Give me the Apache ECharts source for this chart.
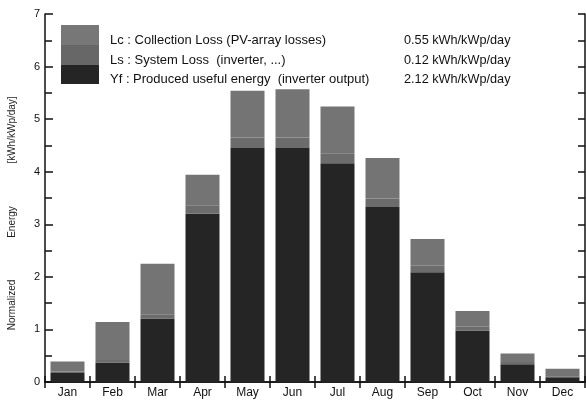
<!DOCTYPE html>
<html>
<head>
<meta charset="utf-8">
<script src="https://cdn.jsdelivr.net/npm/echarts@6/dist/echarts.min.js"></script>
<style>html,body{margin:0;padding:0;background:#fff}#c{width:586px;height:405px}</style>
</head>
<body>
<div id="c"></div>
<script>
const months = ['Jan','Feb','Mar','Apr','May','Jun','Jul','Aug','Sep','Oct','Nov','Dec'];
const yf = [0.17, 0.37, 1.21, 3.20, 4.45, 4.45, 4.16, 3.33, 2.09, 0.98, 0.34, 0.09];
const ls = [0.03, 0.05, 0.08, 0.16, 0.20, 0.20, 0.19, 0.16, 0.12, 0.07, 0.04, 0.02];
const lc = [0.19, 0.72, 0.96, 0.58, 0.89, 0.92, 0.89, 0.77, 0.51, 0.30, 0.16, 0.14];
const seriesNames = ['Yf', 'Ls', 'Lc'];
const legendLabels = ['Lc : Collection Loss (PV-array losses)', 'Ls : System Loss  (inverter, ...)', 'Yf : Produced useful energy  (inverter output)'];
const legendValues = ['0.55 kWh/kWp/day', '0.12 kWh/kWp/day', '2.12 kWh/kWp/day'];
const yTitleParts = ['Normalized', 'Energy', '[kWh/kWp/day]'];

const colors = {Lc: '#747474', Ls: '#6c6c6c', Yf: '#252525'};
const legendBoxColors = ['#777777', '#676767', '#252525'];
const font = 'Liberation Sans, Arial, sans-serif';

const chart = echarts.init(document.getElementById('c'), null, {renderer: 'canvas'});

const graphics = [];
[25, 45, 65].forEach((y, i) => {
  graphics.push({type: 'rect', left: 61, top: y, shape: {width: 38, height: i === 2 ? 19 : 20}, style: {fill: legendBoxColors[i]}});
});
[40, 60, 79].forEach((y, i) => {
  graphics.push({type: 'text', x: 110, y: y, style: {text: legendLabels[i], font: '13px ' + font, fill: '#111', verticalAlign: 'middle'}});
  graphics.push({type: 'text', x: 404, y: y, style: {text: legendValues[i], font: '12.7px ' + font, fill: '#111', verticalAlign: 'middle'}});
});
[305, 222, 130].forEach((y, i) => {
  graphics.push({type: 'text', x: 12, y: y, rotation: Math.PI / 2, style: {text: yTitleParts[i], font: '10px ' + font, fill: '#222', align: 'center', verticalAlign: 'middle'}});
});

const axisLineStyle = {color: '#111', width: 1.5};

chart.setOption({
  animation: false,
  backgroundColor: '#fff',
  grid: {left: 45, right: 1, top: 14, bottom: 23},
  xAxis: [
    {type: 'category', data: months, position: 'bottom',
     axisLine: {lineStyle: axisLineStyle},
     axisTick: {show: true, inside: true, length: 6, lineStyle: {color: '#111', width: 1.5}},
     axisLabel: {color: '#111', fontSize: 12, fontFamily: font, margin: 5}},
    {type: 'category', data: months, position: 'top',
     axisLine: {lineStyle: axisLineStyle},
     axisTick: {show: true, inside: true, length: 6, lineStyle: {color: '#111', width: 1.5}},
     axisLabel: {show: false}}
  ],
  yAxis: [
    {type: 'value', min: 0, max: 7, interval: 1, position: 'left',
     axisLine: {show: true, lineStyle: axisLineStyle},
     axisTick: {show: true, inside: true, length: 8, lineStyle: {color: '#111', width: 1.5}},
     minorTick: {show: true, splitNumber: 2, length: 7, lineStyle: {color: '#111', width: 1.5}},
     splitLine: {show: false},
     axisLabel: {color: '#111', fontSize: 11, fontFamily: font, margin: 5}},
    {type: 'value', min: 0, max: 7, interval: 1, position: 'right',
     axisLine: {show: true, lineStyle: axisLineStyle},
     axisTick: {show: true, inside: true, length: 7, lineStyle: {color: '#111', width: 1.5}},
     minorTick: {show: true, splitNumber: 2, length: 7, lineStyle: {color: '#111', width: 1.5}},
     splitLine: {show: false},
     axisLabel: {show: false}}
  ],
  series: [
    {name: seriesNames[0], type: 'bar', stack: 'e', data: yf, barWidth: 34, itemStyle: {color: colors.Yf}},
    {name: seriesNames[1], type: 'bar', stack: 'e', data: ls, barWidth: 34, itemStyle: {color: colors.Ls}},
    {name: seriesNames[2], type: 'bar', stack: 'e', data: lc, barWidth: 34, itemStyle: {color: colors.Lc}}
  ],
  graphic: graphics
});
</script>
</body>
</html>
